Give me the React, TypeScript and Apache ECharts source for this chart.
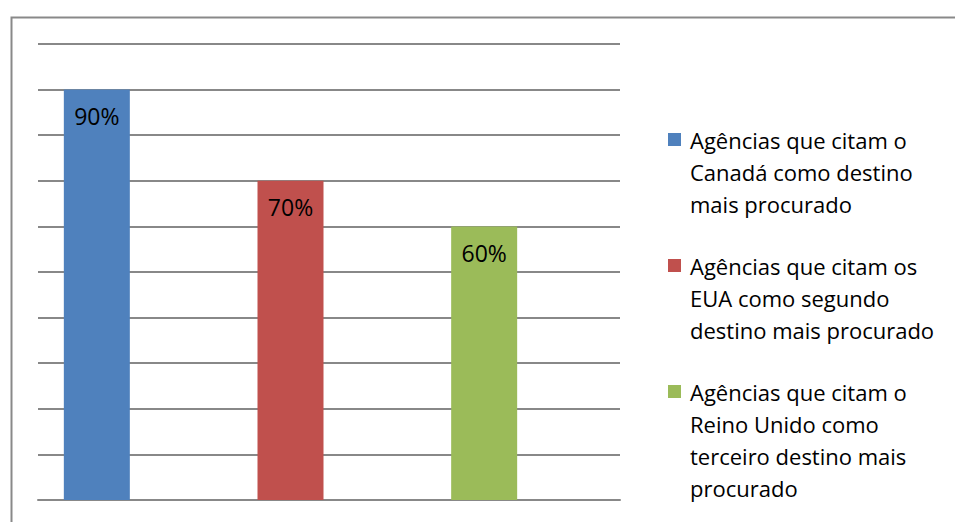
import React, { useEffect, useRef } from "react";
import * as echarts from "echarts";

// Share of agencies naming each destination (percent)
const categories = ["Canadá", "EUA", "Reino Unido"];
const values = [90, 70, 60];
const colors = ["#4F81BD", "#C0504D", "#9BBB59"];
const legendTexts = [
  ["Agências que citam o", "Canadá como destino", "mais procurado"],
  ["Agências que citam os", "EUA como segundo", "destino mais procurado"],
  ["Agências que citam o", "Reino Unido como", "terceiro destino mais", "procurado"],
];

const FONT = "'Open Sans', 'Liberation Sans', sans-serif";
const Y_MAX = 100;
const Y_STEP = 10;

export default function App() {
  const ref = useRef<HTMLDivElement>(null);

  useEffect(() => {
    if (!ref.current) return;
    const chart = echarts.init(ref.current, null, { renderer: "svg" });

    // Legend built as graphics so the swatch sits beside the first line
    const legendGraphics: any[] = [];
    const lineH = 32;
    const groupGap = 30;
    let y = 124;
    legendTexts.forEach((lines, i) => {
      legendGraphics.push({
        type: "rect",
        left: 668,
        top: y + 9,
        shape: { width: 13, height: 13 },
        style: { fill: colors[i] },
      });
      legendGraphics.push({
        type: "text",
        left: 690,
        top: y,
        style: {
          text: lines.join("\n"),
          font: `22px ${FONT}`,
          lineHeight: lineH,
          fill: "#000",
        },
      });
      y += lines.length * lineH + groupGap;
    });

    chart.setOption({
      animation: false,
      grid: [
        // gridline area
        { left: 38, right: 335, top: 44, bottom: 22 },
        // bar area
        { left: -1, width: 582, top: 44, bottom: 22 },
      ],
      xAxis: [
        {
          gridIndex: 0,
          type: "category",
          data: categories,
          axisLine: { show: true, lineStyle: { color: "#888", width: 2 } },
          axisTick: { show: false },
          axisLabel: { show: false },
        },
        {
          gridIndex: 1,
          type: "category",
          data: categories,
          axisLine: { show: false },
          axisTick: { show: false },
          axisLabel: { show: false },
        },
      ],
      yAxis: [
        {
          gridIndex: 0,
          type: "value",
          min: 0,
          max: Y_MAX,
          interval: Y_STEP,
          axisLabel: { show: false },
          axisLine: { show: false },
          axisTick: { show: false },
          splitLine: { lineStyle: { color: "#888", width: 2 } },
        },
        {
          gridIndex: 1,
          type: "value",
          min: 0,
          max: Y_MAX,
          interval: Y_STEP,
          axisLabel: { show: false },
          axisLine: { show: false },
          axisTick: { show: false },
          splitLine: { show: false },
        },
      ],
      series: [
        {
          type: "bar",
          xAxisIndex: 1,
          yAxisIndex: 1,
          barWidth: 66,
          data: values.map((v, i) => ({ value: v, itemStyle: { color: colors[i] } })),
          label: {
            show: true,
            position: "insideTop",
            distance: 15,
            formatter: (p: any) => `${p.value}%`,
            color: "#000",
            fontSize: 23,
            fontFamily: FONT,
          },
        },
      ],
      graphic: [
        {
          type: "rect",
          left: 9,
          top: 15,
          shape: { width: 1000, height: 600 },
          style: { fill: "none", stroke: "#898989", lineWidth: 2 },
          silent: true,
        },
        ...legendGraphics,
      ],
    });

    return () => chart.dispose();
  }, []);

  return (
    <div
      ref={ref}
      style={{ position: "fixed", left: 0, top: 0, width: 955, height: 522, background: "#fff" }}
    />
  );
}
